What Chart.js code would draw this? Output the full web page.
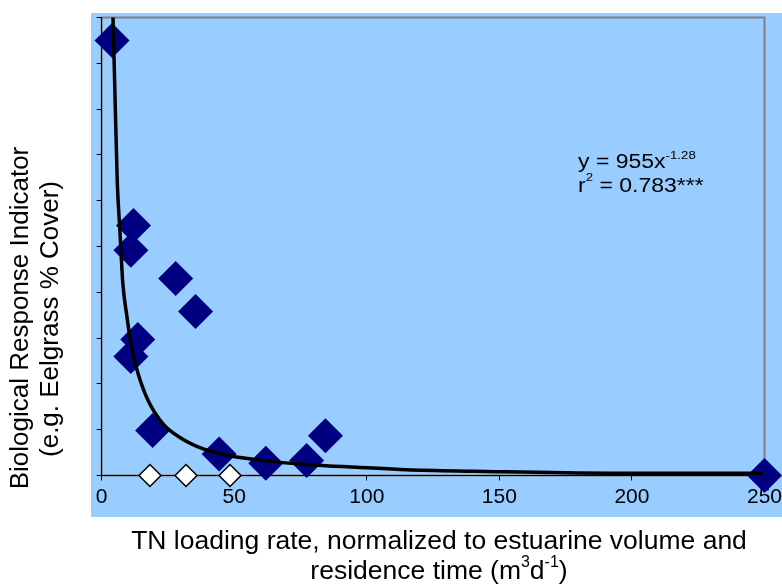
<!DOCTYPE html>
<html><head><meta charset="utf-8">
<script src="https://cdn.jsdelivr.net/npm/chart.js@4"></script>
<style>html,body{margin:0;padding:0;background:#fff}canvas{display:block}</style>
</head><body>
<canvas id="c" width="782" height="586"></canvas>
<script>
// Observed sites: TN loading (x) vs biological response (y)
const loadX  = [3.9, 12.0, 11.0, 27.9, 35.4, 13.6, 11.0, 19.2, 44.3, 61.9, 77.3, 84.4, 250];
const coverY = [95, 54.6, 49.2, 43.0, 35.8, 29.7, 26.0, 9.8, 4.7, 2.7, 3.3, 8.7, 0];
// Sites with no cover (open diamonds)
const openX = [18.2, 31.8, 48.4];
const openY = [0, 0, 0];
// Power trendline
const fitX = [3.8, 4.26, 5.28, 5.88, 6.90, 7.92, 9.42, 11.31, 13.80, 17.56, 23.22, 29.51, 38.30, 48.36, 60.91, 79.76, 96.12, 115.0, 140.1, 191.6, 249.4];
const fitY = [110, 100, 77.0, 64.0, 53.1, 42.3, 35.1, 27.8, 22.1, 16.3, 11.2, 8.3, 5.8, 4.3, 3.25, 2.3, 1.8, 1.24, 0.93, 0.5, 0.5];
const xTickStep = 50;
const yTickStep = 10;
const xTitle = [[["TN loading rate, normalized to estuarine volume and", false]],
                [["residence time (m", false], ["3", true], ["d", false], ["-1", true], [")", false]]];
const yTitle = ["Biological Response Indicator", "(e.g. Eelgrass % Cover)"];
const eqLines = [[["y = 955x", false], ["-1.28", true]],
                 [["r", false], ["2", true], [" = 0.783***", false]]];

const toPts = (xs, ys) => xs.map((x, i) => ({x, y: ys[i]}));
const FONT = '"Liberation Sans", Arial, sans-serif';

function drawRuns(ctx, runs, x, y, size, supSize, supRise, align) {
  let w = 0;
  runs.forEach(([t, sup]) => { ctx.font = (sup ? supSize : size) + 'px ' + FONT; w += ctx.measureText(t).width; });
  let cx = align === 'center' ? x - w / 2 : x;
  ctx.textAlign = 'left';
  ctx.textBaseline = 'middle';
  runs.forEach(([t, sup]) => {
    ctx.font = (sup ? supSize : size) + 'px ' + FONT;
    ctx.fillText(t, cx, sup ? y - supRise : y);
    cx += ctx.measureText(t).width;
  });
}

const bgPlugin = {
  id: 'bg',
  beforeDraw(chart) {
    const {ctx, chartArea: a} = chart;
    ctx.save();
    ctx.fillStyle = '#fff';
    ctx.fillRect(0, 0, chart.width, chart.height);
    ctx.fillStyle = '#99CCFF';
    ctx.fillRect(91, 13, chart.width - 91, 504);
    ctx.strokeStyle = '#808080';
    ctx.lineWidth = 2;
    ctx.strokeRect(a.left, a.top, a.right - a.left, a.bottom - a.top);
    ctx.restore();
  },
  afterDraw(chart) {
    const {ctx} = chart;
    ctx.save();
    ctx.fillStyle = '#000';
    // x title
    drawRuns(ctx, xTitle[0], 439, 542, 26.5, 16, 9, 'center');
    drawRuns(ctx, xTitle[1], 439, 572, 26.5, 16, 9, 'center');
    // y title
    ctx.save();
    ctx.translate(21, 318);
    ctx.rotate(-Math.PI / 2);
    drawRuns(ctx, [[yTitle[0], false]], 0, 0, 26, 16, 9, 'center');
    ctx.restore();
    ctx.save();
    ctx.translate(51, 319);
    ctx.rotate(-Math.PI / 2);
    drawRuns(ctx, [[yTitle[1], false]], 0, 0, 26, 16, 9, 'center');
    ctx.restore();
    // equation (slightly wide lettering as in the original)
    ctx.save();
    ctx.translate(578, 0);
    ctx.scale(1.15, 1);
    drawRuns(ctx, eqLines[0], 0, 162, 20, 11.5, 6, 'left');
    drawRuns(ctx, eqLines[1], 0, 186, 20, 11.5, 8, 'left');
    ctx.restore();
    ctx.restore();
  }
};

new Chart(document.getElementById('c'), {
  type: 'scatter',
  data: {
    datasets: [
      { label: 'fit', data: toPts(fitX, fitY), showLine: true, pointRadius: 0,
        borderColor: '#000', borderWidth: 3.5, cubicInterpolationMode: 'monotone',
        clip: 0, order: 0 },
      { label: 'open', data: toPts(openX, openY), pointStyle: 'rectRot', pointRadius: 11,
        backgroundColor: '#fff', borderColor: '#000', borderWidth: 1.5, clip: false, order: 1 },
      { label: 'sites', data: toPts(loadX, coverY), pointStyle: 'rectRot', pointRadius: 17.5,
        backgroundColor: '#000080', borderColor: '#000080', borderWidth: 0, clip: false, order: 2 }
    ]
  },
  options: {
    responsive: false,
    animation: false,
    events: [],
    layout: { padding: { top: 14, right: 17, left: 0, bottom: 0 } },
    plugins: { legend: { display: false }, tooltip: { enabled: false } },
    scales: {
      x: {
        type: 'linear', position: 'bottom', min: 0, max: 250,
        ticks: { stepSize: xTickStep, color: '#000', padding: 4, font: { family: FONT, size: 21 } },
        grid: { drawOnChartArea: false, drawTicks: true, tickLength: 5, color: '#000' },
        border: { display: true, color: '#000', width: 1 },
        afterFit(s) { s.height = 110.5; s.paddingLeft = 0; s.paddingRight = 0; }
      },
      y: {
        type: 'linear', position: 'left', min: 0, max: 100,
        ticks: { stepSize: yTickStep, display: false },
        grid: { drawOnChartArea: false, drawTicks: true, tickLength: 5, color: '#000' },
        border: { display: true, color: '#000', width: 1 },
        afterFit(s) { s.width = 101.7; }
      }
    }
  },
  plugins: [bgPlugin]
});
</script>
</body></html>
